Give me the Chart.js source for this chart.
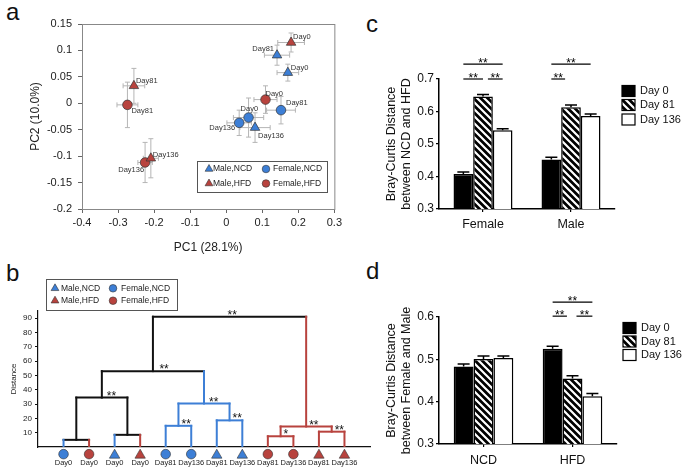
<!DOCTYPE html>
<html>
<head>
<meta charset="utf-8">
<script src="https://cdn.jsdelivr.net/npm/chart.js@4.4.0/dist/chart.umd.min.js"></script>
<style>
  body { margin: 0; width: 685px; height: 475px; position: relative; overflow: hidden; background: #fff;
         font-family: 'Liberation Sans', Arial, sans-serif; }
  canvas { position: absolute; }
  .tag { position: absolute; font-size: 24px; line-height: 24px; color: #111; }
</style>
</head>
<body>
<div class="tag" style="left:6px;top:0px">a</div>
<div class="tag" style="left:6px;top:261px">b</div>
<div class="tag" style="left:366px;top:12px">c</div>
<div class="tag" style="left:366px;top:259px">d</div>
<canvas id="pca" width="345" height="262" style="left:0;top:0"></canvas>
<canvas id="tree" width="375" height="200" style="left:0;top:275px"></canvas>
<canvas id="sexBars" width="325" height="210" style="left:360px;top:30px"></canvas>
<canvas id="dietBars" width="325" height="205" style="left:360px;top:270px"></canvas>
<script>
// ---- panel a: PCA ----
const pcaDays = ['Day0', 'Day81', 'Day136'];
const pcaGroups = ['Male,NCD', 'Female,NCD', 'Male,HFD', 'Female,HFD'];
const maleNcdPc1 = [0.171, 0.141, 0.080];
const maleNcdPc2 = [0.058, 0.091, -0.046];
const maleNcdErr1 = [0.030, 0.035, 0.042];
const maleNcdErr2 = [0.016, 0.019, 0.028];
const femaleNcdPc1 = [0.062, 0.152, 0.036];
const femaleNcdPc2 = [-0.027, -0.013, -0.037];
const femaleNcdErr1 = [0.042, 0.040, 0.034];
const femaleNcdErr2 = [0.037, 0.026, 0.024];
const maleHfdPc1 = [0.180, -0.256, -0.209];
const maleHfdPc2 = [0.115, 0.033, -0.104];
const maleHfdErr1 = [0.037, 0.030, 0.021];
const maleHfdErr2 = [0.018, 0.033, 0.037];
const femaleHfdPc1 = [0.109, -0.274, -0.225];
const femaleHfdPc2 = [0.007, -0.003, -0.112];
const femaleHfdErr1 = [0.032, 0.029, 0.020];
const femaleHfdErr2 = [0.026, 0.043, 0.038];

// ---- panel b: dendrogram ----
const leafLabels = ['Day0', 'Day0', 'Day0', 'Day0', 'Day81', 'Day136', 'Day81', 'Day136', 'Day81', 'Day136', 'Day81', 'Day136'];
const leafSex = ['Female', 'Female', 'Male', 'Male', 'Female', 'Female', 'Male', 'Male', 'Female', 'Female', 'Male', 'Male'];
const leafDiet = ['NCD', 'HFD', 'NCD', 'HFD', 'NCD', 'NCD', 'NCD', 'NCD', 'HFD', 'HFD', 'HFD', 'HFD'];
// merges: children are leaf indices 0-11 or node ids 12+ (node id = 12 + merge index)
const mergeLeft = [0, 2, 12, 4, 6, 15, 14, 8, 10, 19, 18];
const mergeRight = [1, 3, 13, 5, 7, 16, 17, 9, 11, 20, 21];
const mergeHeight = [5, 8.5, 34.5, 14.8, 18.6, 30.3, 53, 7.5, 10.7, 14.3, 91];
const mergeGroup = ['mixed', 'mixed', 'mixed', 'NCD', 'NCD', 'NCD', 'mixed', 'HFD', 'HFD', 'HFD', 'mixed'];
const mergeStars = ['', '', '**', '**', '**', '**', '**', '*', '**', '**', '**'];
const distanceTicks = [10, 20, 30, 40, 50, 60, 70, 80, 90];

// ---- panel c: NCD vs HFD distance by sex ----
const sexGroups = ['Female', 'Male'];
const dayLabels = ['Day 0', 'Day 81', 'Day 136'];
const sexDay0 = [0.408, 0.452];
const sexDay81 = [0.646, 0.613];
const sexDay136 = [0.542, 0.586];
const sexErr0 = [0.006, 0.007];
const sexErr81 = [0.006, 0.007];
const sexErr136 = [0.005, 0.006];
const sexSigGroup = [0, 0, 0, 1, 1];
const sexSigFrom = [0, 0, 1.25, 0, 0];
const sexSigTo = [2, 1, 2, 2, 0.7];
const sexSigLevel = [0.746, 0.7, 0.7, 0.746, 0.7];

// ---- panel d: female vs male distance by diet ----
const dietGroups = ['NCD', 'HFD'];
const dietDay0 = [0.483, 0.525];
const dietDay81 = [0.501, 0.455];
const dietDay136 = [0.503, 0.413];
const dietErr0 = [0.006, 0.006];
const dietErr81 = [0.007, 0.006];
const dietErr136 = [0.005, 0.006];
const dietSigGroup = [1, 1, 1];
const dietSigFrom = [0, 0, 1.2];
const dietSigTo = [2, 0.72, 2];
const dietSigLevel = [0.635, 0.602, 0.602];

Chart.defaults.font.family = "'Liberation Sans', Arial, sans-serif";
Chart.defaults.color = '#222';

const FONT = "'Liberation Sans', Arial, sans-serif";
const blue = '#3d7fd6';
const red = '#b8433e';
const dietColor = { NCD: blue, HFD: red, mixed: '#111' };

function drawMark(ctx, shape, x, y, r, fill) {
  ctx.beginPath();
  if (shape === 'triangle') {
    ctx.moveTo(x, y - r);
    ctx.lineTo(x + r * 0.866, y + r * 0.5);
    ctx.lineTo(x - r * 0.866, y + r * 0.5);
    ctx.closePath();
  } else {
    ctx.arc(x, y, r, 0, Math.PI * 2);
  }
  ctx.fillStyle = fill;
  ctx.fill();
  ctx.strokeStyle = '#333';
  ctx.lineWidth = 0.6;
  ctx.stroke();
}

const groupShape = ['triangle', 'circle', 'triangle', 'circle'];
const groupColor = [blue, blue, red, red];

function drawGroupKey(ctx, box, rowY, symX, txtX) {
  ctx.save();
  ctx.fillStyle = '#fff';
  ctx.fillRect(box[0], box[1], box[2], box[3]);
  ctx.strokeStyle = '#555';
  ctx.lineWidth = 1;
  ctx.strokeRect(box[0] + 0.5, box[1] + 0.5, box[2], box[3]);
  ctx.font = '8.5px ' + FONT;
  ctx.textBaseline = 'middle';
  ctx.textAlign = 'left';
  pcaGroups.forEach((g, i) => {
    const r = Math.floor(i / 2), c = i % 2;
    drawMark(ctx, groupShape[i], symX[c], rowY[r], groupShape[i] === 'triangle' ? 4.5 : 3.8, groupColor[i]);
    ctx.fillStyle = '#222';
    ctx.fillText(g, txtX[c], rowY[r]);
  });
  ctx.restore();
}

// ================= panel a =================
const pcaSeries = [
  [maleNcdPc1, maleNcdPc2, maleNcdErr1, maleNcdErr2],
  [femaleNcdPc1, femaleNcdPc2, femaleNcdErr1, femaleNcdErr2],
  [maleHfdPc1, maleHfdPc2, maleHfdErr1, maleHfdErr2],
  [femaleHfdPc1, femaleHfdPc2, femaleHfdErr1, femaleHfdErr2]
];
// label placement (px) next to each marker
const pcaLabelOffsets = [
  [[3, -5, 'left'], [-3, -6, 'right'], [3, 8, 'left']],
  [[-8, -9, 'left'], [5, -7, 'left'], [-4, 5, 'right']],
  [[2, -6, 'left'], [2, -5, 'left'], [2, -3, 'left']],
  [[0, -6, 'left'], [4, 6, 'left'], [-1, 7, 'right']]
];

const fmt = v => String(Math.round(v * 100) / 100);

new Chart(document.getElementById('pca'), {
  type: 'scatter',
  data: {
    datasets: pcaSeries.map((s, gi) => ({
      label: pcaGroups[gi],
      data: s[0].map((x, i) => ({ x, y: s[1][i] })),
      backgroundColor: groupColor[gi],
      borderColor: '#333',
      borderWidth: 0.7,
      pointStyle: groupShape[gi],
      pointRadius: groupShape[gi] === 'triangle' ? 5.5 : 4.8
    }))
  },
  options: {
    responsive: false,
    animation: false,
    layout: { padding: { top: 24, right: 5, left: 0, bottom: 0 } },
    plugins: { legend: { display: false }, tooltip: { enabled: false } },
    scales: {
      x: {
        type: 'linear', min: -0.4, max: 0.3,
        afterFit: s => { s.height = 53; },
        ticks: { stepSize: 0.1, font: { size: 11 }, padding: 3, callback: fmt },
        grid: { display: true, drawOnChartArea: false, tickLength: 4, color: '#666' },
        border: { color: '#666' },
        title: { display: true, text: 'PC1 (28.1%)', font: { size: 12 }, padding: { top: 0, bottom: 7 } }
      },
      y: {
        type: 'linear', min: -0.2, max: 0.15,
        afterFit: s => { s.width = 82; },
        ticks: { stepSize: 0.05, font: { size: 11 }, padding: 6, callback: fmt },
        grid: { display: true, drawOnChartArea: false, tickLength: 4, color: '#666' },
        border: { color: '#666' },
        title: { display: true, text: 'PC2 (10.0%)', font: { size: 12 }, padding: { top: 28, bottom: 0 } }
      }
    }
  },
  plugins: [{
    id: 'pcaExtras',
    beforeDatasetsDraw(chart) {
      const ctx = chart.ctx, xs = chart.scales.x, ys = chart.scales.y, a = chart.chartArea;
      ctx.save();
      ctx.strokeStyle = '#888';
      ctx.lineWidth = 1;
      ctx.strokeRect(a.left + 0.5, a.top + 0.5, a.right - a.left, a.bottom - a.top);
      ctx.strokeStyle = '#b5b5b5';
      ctx.lineWidth = 1;
      pcaSeries.forEach(s => {
        s[0].forEach((x, i) => {
          const y = s[1][i];
          const px = xs.getPixelForValue(x), py = ys.getPixelForValue(y);
          const x0 = xs.getPixelForValue(x - s[2][i]), x1 = xs.getPixelForValue(x + s[2][i]);
          const y0 = ys.getPixelForValue(y - s[3][i]), y1 = ys.getPixelForValue(y + s[3][i]);
          ctx.beginPath();
          ctx.moveTo(x0, py); ctx.lineTo(x1, py);
          ctx.moveTo(x0, py - 2.5); ctx.lineTo(x0, py + 2.5);
          ctx.moveTo(x1, py - 2.5); ctx.lineTo(x1, py + 2.5);
          ctx.moveTo(px, y0); ctx.lineTo(px, y1);
          ctx.moveTo(px - 2.5, y0); ctx.lineTo(px + 2.5, y0);
          ctx.moveTo(px - 2.5, y1); ctx.lineTo(px + 2.5, y1);
          ctx.stroke();
        });
      });
      ctx.restore();
    },
    afterDatasetsDraw(chart) {
      const ctx = chart.ctx;
      ctx.save();
      ctx.font = '7.5px ' + FONT;
      ctx.fillStyle = '#333';
      ctx.textBaseline = 'middle';
      chart.data.datasets.forEach((ds, gi) => {
        chart.getDatasetMeta(gi).data.forEach((pt, i) => {
          const o = pcaLabelOffsets[gi][i];
          ctx.textAlign = o[2];
          ctx.fillText(pcaDays[i], pt.x + o[0], pt.y + o[1]);
        });
      });
      ctx.restore();
      drawGroupKey(ctx, [197, 161, 130, 31], [169, 183.5], [209, 266], [213, 273]);
    }
  }]
});

// ================= panel b =================
const nodeX = [], nodeH = [], nodeCol = [];
leafLabels.forEach((l, i) => { nodeX.push(i + 1); nodeH.push(0); nodeCol.push(dietColor[leafDiet[i]]); });
const treeSegments = [];
mergeLeft.forEach((a, m) => {
  const b = mergeRight[m], h = mergeHeight[m];
  const x = (nodeX[a] + nodeX[b]) / 2;
  nodeX.push(x); nodeH.push(h); nodeCol.push(dietColor[mergeGroup[m]]);
  treeSegments.push({ pts: [[nodeX[a], nodeH[a]], [nodeX[a], h]], color: nodeCol[a] });
  treeSegments.push({ pts: [[nodeX[b], nodeH[b]], [nodeX[b], h]], color: nodeCol[b] });
  treeSegments.push({ pts: [[nodeX[a], h], [nodeX[b], h]], color: nodeCol[12 + m] });
});
const starDx = [0, 0, 5, 3, 3, 5, 6.5, 3, 3, 3, -2];

new Chart(document.getElementById('tree'), {
  type: 'scatter',
  data: {
    datasets: treeSegments.map(s => ({
      data: s.pts.map(p => ({ x: p[0], y: p[1] })),
      showLine: true,
      borderColor: s.color,
      borderWidth: 2,
      borderCapStyle: 'square',
      pointRadius: 0
    }))
  },
  options: {
    responsive: false,
    animation: false,
    layout: { padding: { top: 36, right: 5, left: 0, bottom: 0 } },
    plugins: { legend: { display: false }, tooltip: { enabled: false } },
    scales: {
      x: {
        type: 'linear', min: 0, max: 13,
        afterFit: s => { s.height = 28; },
        afterBuildTicks: s => { s.ticks = leafLabels.map((l, i) => ({ value: i + 1 })); },
        ticks: { font: { size: 7.5 }, padding: 11, autoSkip: false, maxRotation: 0,
                 callback: v => leafLabels[v - 1] },
        grid: { display: false, drawTicks: false },
        border: { display: true, color: '#111', width: 1.2 }
      },
      y: {
        type: 'linear', min: 0, max: 95,
        afterFit: s => { s.width = 38; },
        afterBuildTicks: s => { s.ticks = distanceTicks.map(v => ({ value: v })); },
        ticks: { font: { size: 8 }, padding: 3 },
        grid: { display: true, drawOnChartArea: false, tickLength: 3, color: '#111' },
        border: { display: true, color: '#111', width: 1.2 },
        title: { display: true, text: 'Distance', font: { size: 8 }, padding: { top: 9, bottom: 0 } }
      }
    }
  },
  plugins: [{
    id: 'treeExtras',
    afterDraw(chart) {
      const ctx = chart.ctx, xs = chart.scales.x, ys = chart.scales.y;
      ctx.save();
      // leaf markers just below the baseline
      leafLabels.forEach((l, i) => {
        const male = leafSex[i] === 'Male';
        drawMark(ctx, male ? 'triangle' : 'circle', xs.getPixelForValue(i + 1), ys.getPixelForValue(-5) + (male ? 1 : 0),
                 male ? 6 : 4.8, dietColor[leafDiet[i]]);
      });
      ctx.font = '12px ' + FONT;
      ctx.fillStyle = '#111';
      ctx.textAlign = 'left';
      ctx.textBaseline = 'alphabetic';
      mergeStars.forEach((s, m) => {
        if (!s) return;
        ctx.fillText(s, xs.getPixelForValue(nodeX[12 + m]) + starDx[m], ys.getPixelForValue(mergeHeight[m]) + 2);
      });
      ctx.restore();
      drawGroupKey(ctx, [46, 4, 131, 31], [13.3, 25.7], [55, 113], [61, 121]);
    }
  }]
});

// ================= panels c, d =================
function hatchFor(canvas) {
  const s = 7, tile = document.createElement('canvas');
  tile.width = s; tile.height = s;
  const g = tile.getContext('2d');
  g.fillStyle = '#000';
  g.fillRect(0, 0, s, s);
  g.strokeStyle = '#fff';
  g.lineWidth = 2.2;
  g.beginPath();
  for (let k = -1; k <= 1; k++) { g.moveTo(k * s - 1, -1); g.lineTo(k * s + s + 1, s + 1); }
  g.stroke();
  return canvas.getContext('2d').createPattern(tile, 'repeat');
}

function barPanel(id, cats, vals, errs, sig, yMax, title, lay) {
  const canvas = document.getElementById(id);
  const fills = ['#000', hatchFor(canvas), '#fff'];
  new Chart(canvas, {
    type: 'bar',
    data: {
      labels: cats,
      datasets: vals.map((v, i) => ({
        label: dayLabels[i],
        data: v,
        backgroundColor: fills[i],
        borderColor: '#000',
        borderWidth: 1.5,
        borderSkipped: false,
        categoryPercentage: 0.67,
        barPercentage: 1.0
      }))
    },
    options: {
      responsive: false,
      animation: false,
      layout: { padding: { top: lay.top, right: lay.right, left: 0, bottom: 0 } },
      plugins: { legend: { display: false }, tooltip: { enabled: false } },
      scales: {
        x: {
          afterFit: s => { s.height = lay.xh; },
          ticks: { font: { size: 12.5 }, padding: lay.xpad, color: '#111' },
          grid: { display: true, drawOnChartArea: false, offset: false, tickLength: 3, color: '#000', lineWidth: 1.2 },
          border: { display: true, color: '#000', width: 1.5 }
        },
        y: {
          min: 0.3, max: yMax,
          afterFit: s => { s.width = 79; },
          ticks: { stepSize: 0.1, font: { size: 12 }, padding: 2, color: '#111', callback: v => String(Math.round(v * 10) / 10) },
          grid: { display: true, drawOnChartArea: false, tickLength: 3, color: '#000', lineWidth: 1.2 },
          border: { display: true, color: '#000', width: 1.5 },
          title: { display: true, text: title, font: { size: 12.5, lineHeight: 1.2 }, color: '#111', padding: { top: 24.5, bottom: 0 } }
        }
      }
    },
    plugins: [{
      id: 'barExtras',
      afterDatasetsDraw(chart) {
        const ctx = chart.ctx, ys = chart.scales.y;
        ctx.save();
        ctx.strokeStyle = '#000';
        ctx.lineWidth = 1.5;
        vals.forEach((v, di) => {
          chart.getDatasetMeta(di).data.forEach((bar, i) => {
            const top = ys.getPixelForValue(v[i] + errs[di][i]);
            ctx.beginPath();
            ctx.moveTo(bar.x, bar.y); ctx.lineTo(bar.x, top);
            ctx.moveTo(bar.x - 6, top); ctx.lineTo(bar.x + 6, top);
            ctx.stroke();
          });
        });
        // significance bars
        const m0 = chart.getDatasetMeta(0).data, m1 = chart.getDatasetMeta(1).data;
        ctx.lineWidth = 1.2;
        ctx.font = '12px ' + FONT;
        ctx.fillStyle = '#000';
        ctx.textAlign = 'center';
        ctx.textBaseline = 'alphabetic';
        sig[0].forEach((g, k) => {
          const step = m1[g].x - m0[g].x;
          const x0 = m0[g].x + sig[1][k] * step, x1 = m0[g].x + sig[2][k] * step;
          const y = ys.getPixelForValue(sig[3][k]);
          ctx.beginPath(); ctx.moveTo(x0, y); ctx.lineTo(x1, y); ctx.stroke();
          ctx.fillText('**', (x0 + x1) / 2, y + 2.5);
        });
        // legend
        ctx.font = '11px ' + FONT;
        ctx.textAlign = 'left';
        ctx.textBaseline = 'middle';
        chart.data.datasets.forEach((ds, i) => {
          const cy = lay.keyY[i];
          ctx.fillStyle = ds.backgroundColor;
          ctx.fillRect(lay.keyX, cy - 5.5, 13, 11);
          ctx.lineWidth = 1.2;
          ctx.strokeRect(lay.keyX, cy - 5.5, 13, 11);
          ctx.fillStyle = '#111';
          ctx.fillText(ds.label, lay.keyX + 18, cy);
        });
        ctx.restore();
      }
    }]
  });
}

barPanel('sexBars', sexGroups,
  [sexDay0, sexDay81, sexDay136], [sexErr0, sexErr81, sexErr136],
  [sexSigGroup, sexSigFrom, sexSigTo, sexSigLevel], 0.7,
  ['Bray-Curtis Distance', 'between NCD and HFD'],
  { top: 49, right: 70, xh: 31, xpad: 5.5, keyX: 262, keyY: [61, 75, 89.5] });

barPanel('dietBars', dietGroups,
  [dietDay0, dietDay81, dietDay136], [dietErr0, dietErr81, dietErr136],
  [dietSigGroup, dietSigFrom, dietSigTo, dietSigLevel], 0.6,
  ['Bray-Curtis Distance', 'between Female and Male'],
  { top: 47, right: 68, xh: 31, xpad: 6.5, keyX: 263, keyY: [58, 71.5, 85] });
</script>
</body>
</html>
